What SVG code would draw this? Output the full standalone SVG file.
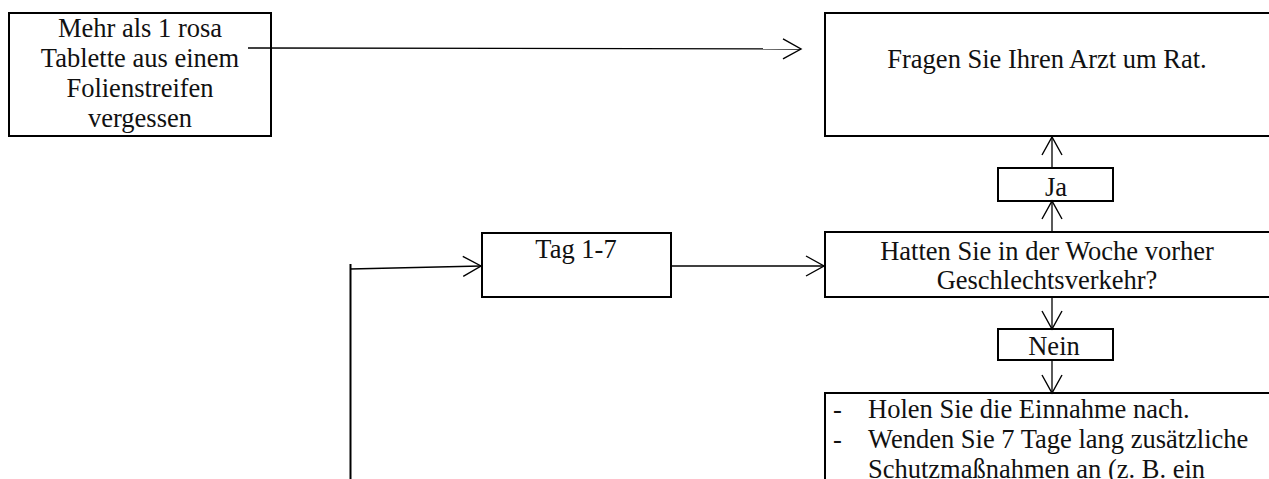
<svg xmlns="http://www.w3.org/2000/svg" width="1269" height="479" viewBox="0 0 1269 479">
  <style>
    .box { fill: #fff; stroke: #000; stroke-width: 2; }
    .t { font-family: "Liberation Serif", "Times New Roman", serif; font-size: 26.5px; fill: #111; }
    .c { text-anchor: middle; }
    .conn { stroke: #000; stroke-width: 1.3; fill: none; }
  </style>
  <defs>
    <marker id="arr" markerUnits="userSpaceOnUse" markerWidth="22" markerHeight="24" viewBox="-20 -12 22 24" refX="0" refY="0" orient="auto" overflow="visible">
      <path d="M-18,-10 L0,0 L-18,10" fill="none" stroke="#000" stroke-width="1.4"/>
    </marker>
  </defs>
  <rect width="1269" height="479" fill="#fff"/>

  <g id="n1">
    <rect class="box" x="9" y="13" width="262" height="123"/>
    <text class="t c" x="140" y="37">Mehr als 1 rosa</text>
    <text class="t c" x="140" y="67">Tablette aus einem</text>
    <text class="t c" x="140" y="97">Folienstreifen</text>
    <text class="t c" x="140" y="127">vergessen</text>
  </g>

  <g id="n2">
    <rect class="box" x="825" y="13" width="460" height="123"/>
    <text class="t c" x="1047" y="68">Fragen Sie Ihren Arzt um Rat.</text>
  </g>

  <g id="n3">
    <rect class="box" x="998" y="168" width="115" height="33"/>
    <text class="t c" x="1056" y="196">Ja</text>
  </g>

  <g id="n4">
    <rect class="box" x="482" y="233" width="189" height="64"/>
    <text class="t c" x="576" y="258">Tag 1-7</text>
  </g>

  <g id="n5">
    <rect class="box" x="825" y="232" width="460" height="65"/>
    <text class="t c" x="1047" y="260">Hatten Sie in der Woche vorher</text>
    <text class="t c" x="1047" y="289">Geschlechtsverkehr?</text>
  </g>

  <g id="n6">
    <rect class="box" x="998" y="329" width="115" height="31"/>
    <text class="t c" x="1054" y="355">Nein</text>
  </g>

  <g id="n7">
    <rect class="box" x="825" y="393" width="460" height="120"/>
    <text class="t" x="833" y="418">-</text>
    <text class="t" x="868" y="418">Holen Sie die Einnahme nach.</text>
    <text class="t" x="833" y="448">-</text>
    <text class="t" x="868" y="448">Wenden Sie 7 Tage lang zusätzliche</text>
    <text class="t" x="868" y="478">Schutzmaßnahmen an (z. B. ein</text>
  </g>

  <g id="connectors">
    <line class="conn" x1="248" y1="48" x2="801" y2="49" marker-end="url(#arr)"/>
    <line class="conn" x1="671" y1="266" x2="824" y2="266" marker-end="url(#arr)"/>
    <line x1="350.5" y1="264" x2="350.5" y2="479" stroke="#000" stroke-width="2"/>
    <line class="conn" x1="350" y1="269" x2="481" y2="266" marker-end="url(#arr)"/>
    <line class="conn" x1="1052" y1="232" x2="1052" y2="201" marker-end="url(#arr)"/>
    <line class="conn" x1="1052" y1="168" x2="1052" y2="137" marker-end="url(#arr)"/>
    <line class="conn" x1="1052" y1="297" x2="1052" y2="329" marker-end="url(#arr)"/>
    <line class="conn" x1="1052" y1="360" x2="1052" y2="393" marker-end="url(#arr)"/>
  </g>
</svg>
